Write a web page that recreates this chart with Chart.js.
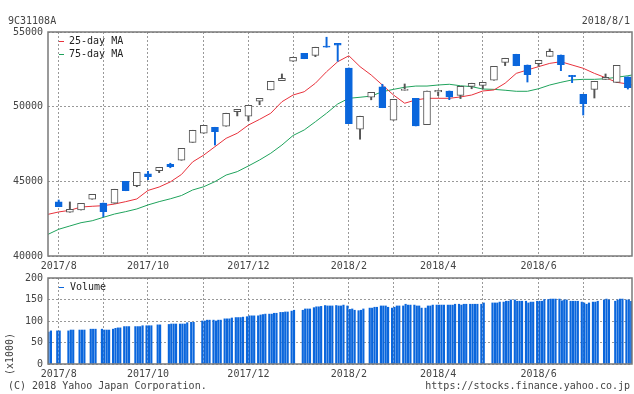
<!DOCTYPE html>
<html lang="ja">
  <head>
    <meta charset="UTF-8" />
    <title>9C31108A</title>
    <style>
      body {
        margin: 0;
        background: #fff;
      }
      #wrap {
        position: relative;
        width: 634px;
        height: 394px;
      }
      canvas {
        position: absolute;
        left: 0;
      }
      #priceChart {
        top: 0;
      }
      #volumeChart {
        top: 272px;
      }
    </style>
    <script src="https://cdn.jsdelivr.net/npm/chart.js"></script>
  </head>
  <body>
    <div id="wrap">
      <canvas id="priceChart" width="634" height="272"></canvas>
      <canvas id="volumeChart" width="634" height="122"></canvas>
    </div>

    <script>
      // weekly candles, week 0 = week of 2017/8/1
      const open = [
        43620, 42930, 43080, 43800, 43550, 43530, 45000, 44710, 45510, 45710,
        46140, 46410, 47610, 48220, 48620, 48690, 49660, 49360, 50360, 51120,
        51740, 53040, 53570, 53440, 54060, 54240, 52590, 48490, 50630, 51320,
        49090, 51090, 50560, 48790, 50980, 51050, 50760, 51360, 51430, 51770,
        52970, 53510, 52790, 52880, 53370, 53460, 52100, 50830, 51160, 51830,
        51630, 51990,
      ];
      const close = [
        43300, 43130, 43520, 44130, 42970, 44470, 44370, 45600, 45310, 45940,
        45980, 47210, 48420, 48750, 48320, 49560, 49820, 50090, 50560, 51700,
        51900, 53310, 53210, 53980, 53980, 54110, 48860, 49360, 50960, 49930,
        50490, 51160, 48710, 51050, 51100, 50650, 51360, 51570, 51630, 52700,
        53240, 52740, 52140, 53110, 53710, 52810, 52010, 50200, 51700, 51970,
        52770, 51270,
      ];
      const high = [
        43750, 43620, 43520, 44130, 43550, 44470, 45000, 45600, 45670, 45940,
        46210, 47210, 48420, 48750, 48620, 49560, 49820, 50090, 50560, 51700,
        52190, 53310, 53570, 53980, 54650, 54240, 52590, 49360, 50960, 51500,
        50490, 51520, 50560, 51050, 51100, 51050, 51360, 51570, 51630, 52700,
        53240, 53510, 52790, 53110, 53860, 53460, 52100, 50830, 51700, 52190,
        52770, 51990,
      ];
      const low = [
        43300, 42930, 43080, 43800, 42630, 43530, 44370, 44640, 45110, 45580,
        45910, 46410, 47610, 48220, 47430, 48690, 49380, 49060, 50130, 51120,
        51740, 53040, 53210, 53350, 53980, 53040, 48860, 47820, 50460, 49930,
        49090, 51090, 48710, 48790, 50740, 50470, 50540, 51200, 51200, 51770,
        52750, 52740, 51650, 52710, 53370, 52410, 51610, 49440, 50580, 51830,
        51630, 51180,
      ];

      // moving averages: left edge, one value per candle, right edge
      const ma25 = [
        42790, 42950, 43060, 43280, 43330, 43370, 43480, 43640, 43820, 44390,
        44620, 44960, 45460, 46300, 46760, 47320, 47880, 48220, 48770, 49150,
        49560, 50330, 50780, 51000, 51570, 52340, 53010, 53410, 52680, 52120,
        51450, 50780, 50230, 50450, 50560, 50560, 50560, 50650, 50780, 51050,
        51120, 51570, 52230, 52460, 52680, 52900, 53010, 52790, 52570, 52230,
        51940, 51630, 51520, 51450,
      ];
      const ma75 = [
        41450, 41790, 42010, 42230, 42360, 42590, 42810, 42970, 43150, 43420,
        43640, 43830, 44050, 44420, 44640, 44980, 45420, 45650, 46030, 46430,
        46880, 47430, 48070, 48440, 48990, 49560, 50180, 50560, 50630, 50710,
        51000, 51160, 51300, 51380, 51380, 51450, 51500, 51400, 51340, 51180,
        51160, 51100, 51030, 51030, 51200, 51450, 51630, 51790, 51830, 51830,
        51870, 51970, 52070, 52120,
      ];

      // daily volume (x1000), one row per week starting with the week before week 0
      const volumeWeeks = [
        [null, 74, 77],
        [77, 77],
        [77, 79, 79],
        [79, 79, 79],
        [81, 81, 81],
        [81, 79, 79, 79],
        [81, 83, 84, 84],
        [87, 87, 87],
        [87, 87, 87, 89],
        [89, 89, 89],
        [91, 91],
        [92, 93, 93, 93],
        [93, 93, 93, 96],
        [97, 97],
        [100, 100, 102, 102],
        [102, 100, 102, 102],
        [105, 105, 105, 107],
        [108, 108, 108, 109],
        [110, 112, 112, 112],
        [112, 114, 115, 116],
        [116, 116, 118, 118],
        [120, 120, 121, 121],
        [123, 125],
        [125, 128, 128, 128],
        [131, 133, 133, 134],
        [136, 135, 135, 135],
        [136, 135, 135, 137],
        [135, 127, 128, 125],
        [124, 125, 128],
        [130, 130, 132, 132],
        [135, 135, 135, 132],
        [130, 132, 135, 135],
        [135, 139, 137, 137],
        [137, 135, 135, 130],
        [130, 135, 135, 137],
        [137, 137, 137, 137],
        [137, 137, 137, 139],
        [139, 137, 139, 139],
        [139, 139, 139, 139],
        [139, 142],
        [142, 142, 142, 144],
        [144, 146, 146, 149],
        [149, 146, 146, 146],
        [146, 142, 144, 144],
        [146, 146, 146, 150],
        [150, 151, 151, 151],
        [151, 147, 149, 149],
        [146, 146, 146, 146],
        [144, 142, 139, 142],
        [144, 144, 146],
        [149, 151, 149],
        [146, 149, 151, 151],
        [149, 149, 146],
      ];

      // month grid lines (week index) and their labels
      const monthTicks = [0, 4, 8, 13, 17, 21, 26, 30, 34, 38, 43, 47];
      const monthLabels = [
        "2017/8", "", "2017/10", "", "2017/12", "",
        "2018/2", "", "2018/4", "", "2018/6", "",
      ];
      const priceTicks = [40000, 45000, 50000, 55000];
      const volumeTicks = [0, 50, 100, 150, 200];

      const X_MIN = -0.96;
      const X_MAX = 51.37;
      const DAY_START = -0.13;
      const DAY_STEP = 0.215;

      const BLUE = "#0a66dc";
      const GRAY = "#555";
      const RED = "#e8323c";
      const GREEN = "#1fa35c";
      const FONT = '10px "DejaVu Sans Mono"';

      Chart.defaults.font.family = "DejaVu Sans Mono";
      Chart.defaults.font.size = 10;
      Chart.defaults.color = "#444";

      const weekIdx = open.map((v, i) => i);
      const isDown = weekIdx.map((i) => close[i] < open[i]);
      const maX = [X_MIN, ...weekIdx, X_MAX];

      const volumePoints = [];
      volumeWeeks.forEach((days, k) => {
        days.forEach((v, d) => {
          if (v !== null) {
            volumePoints.push({ x: k - 1 + DAY_START + d * DAY_STEP, y: v });
          }
        });
      });

      function xScale(height) {
        return {
          type: "linear",
          min: X_MIN,
          max: X_MAX,
          offset: false,
          afterBuildTicks: (s) => {
            s.ticks = monthTicks.map((v) => ({ value: v }));
          },
          ticks: {
            autoSkip: false,
            maxRotation: 0,
            padding: 4,
            color: "#444",
            callback: (v, i) => monthLabels[i],
          },
          grid: { color: "#999", drawTicks: false, offset: false },
          border: { display: false, dash: [2, 2] },
          afterFit: (s) => {
            s.height = height;
            s.paddingLeft = 0;
            s.paddingRight = 0;
          },
        };
      }

      function yScale(min, max, ticks) {
        return {
          min: min,
          max: max,
          afterBuildTicks: (s) => {
            s.ticks = ticks.map((v) => ({ value: v }));
          },
          ticks: { padding: 5, color: "#444", callback: (v) => String(v) },
          grid: { color: "#999", drawTicks: false },
          border: { display: false, dash: [2, 2] },
          afterFit: (s) => {
            s.width = 48;
            s.paddingTop = 0;
            s.paddingBottom = 0;
          },
        };
      }

      const framePlugin = {
        id: "frame",
        afterDraw(chart) {
          const { ctx, chartArea: a } = chart;
          ctx.save();
          ctx.strokeStyle = "#7a7a7a";
          ctx.lineWidth = 1.5;
          ctx.strokeRect(a.left, a.top, a.right - a.left, a.bottom - a.top);
          ctx.restore();
        },
      };

      const priceText = {
        id: "priceText",
        afterDraw(chart) {
          const { ctx, chartArea: a } = chart;
          ctx.save();
          ctx.font = FONT;
          ctx.textBaseline = "middle";
          ctx.fillStyle = "#444";
          ctx.textAlign = "left";
          ctx.fillText("9C31108A", 8, 21);
          ctx.textAlign = "right";
          ctx.fillText("2018/8/1", 630, 21);
          chart.data.datasets
            .filter((d) => d.type === "line")
            .forEach((d, i) => {
              const y = a.top + 9.5 + i * 13;
              ctx.strokeStyle = d.borderColor;
              ctx.lineWidth = 1;
              ctx.beginPath();
              ctx.moveTo(a.left + 11, y);
              ctx.lineTo(a.left + 16, y);
              ctx.stroke();
              ctx.fillStyle = "#222";
              ctx.textAlign = "left";
              ctx.fillText(d.label, a.left + 21, y);
            });
          ctx.restore();
        },
      };

      const volumeText = {
        id: "volumeText",
        afterDraw(chart) {
          const { ctx, chartArea: a } = chart;
          ctx.save();
          ctx.font = FONT;
          ctx.textBaseline = "middle";
          const y = a.top + 9.5;
          ctx.strokeStyle = BLUE;
          ctx.lineWidth = 1;
          ctx.beginPath();
          ctx.moveTo(a.left + 11, y);
          ctx.lineTo(a.left + 16, y);
          ctx.stroke();
          ctx.fillStyle = "#222";
          ctx.textAlign = "left";
          ctx.fillText(chart.data.datasets[0].label, a.left + 22, y);

          ctx.fillStyle = "#444";
          ctx.fillText("(C) 2018 Yahoo Japan Corporation.", 8, 114);
          ctx.textAlign = "right";
          ctx.fillText("https://stocks.finance.yahoo.co.jp", 630, 114);

          ctx.translate(10, 82);
          ctx.rotate(-Math.PI / 2);
          ctx.textAlign = "center";
          ctx.fillText("(x1000)", 0, 0);
          ctx.restore();
        },
      };

      new Chart(document.getElementById("priceChart"), {
        type: "bar",
        data: {
          datasets: [
            {
              label: "body",
              data: weekIdx.map((i) => ({ x: i, y: [open[i], close[i]] })),
              backgroundColor: weekIdx.map((i) => (isDown[i] ? BLUE : "#fff")),
              borderColor: weekIdx.map((i) => (isDown[i] ? BLUE : GRAY)),
              borderWidth: 1,
              borderSkipped: false,
              barThickness: 7,
              grouped: false,
            },
            {
              label: "wick",
              data: weekIdx.map((i) => ({ x: i, y: [low[i], high[i]] })),
              backgroundColor: weekIdx.map((i) => (isDown[i] ? BLUE : GRAY)),
              borderWidth: 0,
              barThickness: 1.3,
              grouped: false,
            },
            {
              type: "line",
              label: "25-day MA",
              data: maX.map((x, i) => ({ x: x, y: ma25[i] })),
              borderColor: RED,
              borderWidth: 1,
              pointRadius: 0,
              tension: 0,
            },
            {
              type: "line",
              label: "75-day MA",
              data: maX.map((x, i) => ({ x: x, y: ma75[i] })),
              borderColor: GREEN,
              borderWidth: 1,
              pointRadius: 0,
              tension: 0,
            },
          ],
        },
        options: {
          responsive: false,
          animation: false,
          devicePixelRatio: 1,
          layout: { padding: { left: 0, right: 2, top: 32, bottom: 0 } },
          plugins: { legend: { display: false }, tooltip: { enabled: false } },
          scales: {
            x: xScale(16),
            y: yScale(40000, 55000, priceTicks),
          },
        },
        plugins: [framePlugin, priceText],
      });

      new Chart(document.getElementById("volumeChart"), {
        type: "bar",
        data: {
          datasets: [
            {
              label: "Volume",
              data: volumePoints,
              backgroundColor: BLUE,
              borderWidth: 0,
              barThickness: 1.5,
              grouped: false,
            },
          ],
        },
        options: {
          responsive: false,
          animation: false,
          devicePixelRatio: 1,
          layout: { padding: { left: 0, right: 2, top: 6, bottom: 0 } },
          plugins: { legend: { display: false }, tooltip: { enabled: false } },
          scales: {
            x: xScale(30),
            y: yScale(0, 200, volumeTicks),
          },
        },
        plugins: [framePlugin, volumeText],
      });
    </script>
  </body>
</html>
